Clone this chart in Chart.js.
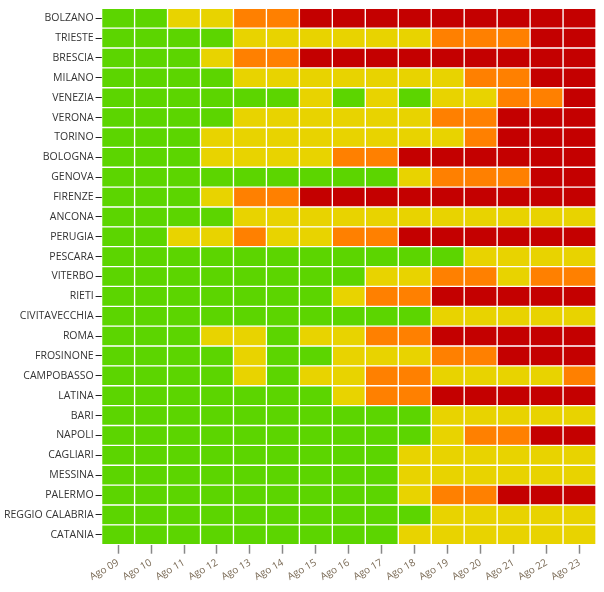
<!DOCTYPE html>
<html>
<head>
<meta charset="utf-8">
<script src="https://cdn.jsdelivr.net/npm/chart.js@4"></script>
<style>
  html, body { margin: 0; padding: 0; background: #fff; }
  #wrap { width: 604px; height: 592px; }
</style>
</head>
<body>
<div id="wrap"><canvas id="heat"></canvas></div>
<script>
const cities = ["BOLZANO", "TRIESTE", "BRESCIA", "MILANO", "VENEZIA", "VERONA", "TORINO", "BOLOGNA",
  "GENOVA", "FIRENZE", "ANCONA", "PERUGIA", "PESCARA", "VITERBO", "RIETI", "CIVITAVECCHIA", "ROMA",
  "FROSINONE", "CAMPOBASSO", "LATINA", "BARI", "NAPOLI", "CAGLIARI", "MESSINA", "PALERMO",
  "REGGIO CALABRIA", "CATANIA"];
const days = ["Ago 09", "Ago 10", "Ago 11", "Ago 12", "Ago 13", "Ago 14", "Ago 15", "Ago 16",
  "Ago 17", "Ago 18", "Ago 19", "Ago 20", "Ago 21", "Ago 22", "Ago 23"];
// 0 = verde, 1 = giallo, 2 = arancione, 3 = rosso
const levels = [
  [0,0,1,1,2,2,3,3,3,3,3,3,3,3,3],
  [0,0,0,0,1,1,1,1,1,1,2,2,2,3,3],
  [0,0,0,1,2,2,3,3,3,3,3,3,3,3,3],
  [0,0,0,0,1,1,1,1,1,1,1,2,2,3,3],
  [0,0,0,0,0,0,1,0,1,0,1,1,2,2,3],
  [0,0,0,0,1,1,1,1,1,1,2,2,3,3,3],
  [0,0,0,1,1,1,1,1,1,1,1,2,3,3,3],
  [0,0,0,1,1,1,1,2,2,3,3,3,3,3,3],
  [0,0,0,0,0,0,0,0,0,1,2,2,2,3,3],
  [0,0,0,1,2,2,3,3,3,3,3,3,3,3,3],
  [0,0,0,0,1,1,1,1,1,1,1,1,1,1,1],
  [0,0,1,1,2,1,1,2,2,3,3,3,3,3,3],
  [0,0,0,0,0,0,0,0,0,0,0,1,1,1,1],
  [0,0,0,0,0,0,0,0,1,1,2,2,1,2,2],
  [0,0,0,0,0,0,0,1,2,2,3,3,3,3,3],
  [0,0,0,0,0,0,0,0,0,0,1,1,1,1,1],
  [0,0,0,1,1,0,1,1,2,2,3,3,3,3,3],
  [0,0,0,0,1,0,0,1,1,1,2,2,3,3,3],
  [0,0,0,0,1,0,1,1,2,2,1,1,1,1,2],
  [0,0,0,0,0,0,0,1,2,2,3,3,3,3,3],
  [0,0,0,0,0,0,0,0,0,0,1,1,1,1,1],
  [0,0,0,0,0,0,0,0,0,0,1,2,2,3,3],
  [0,0,0,0,0,0,0,0,0,1,1,1,1,1,1],
  [0,0,0,0,0,0,0,0,0,1,1,1,1,1,1],
  [0,0,0,0,0,0,0,0,0,1,2,2,3,3,3],
  [0,0,0,0,0,0,0,0,0,0,1,1,1,1,1],
  [0,0,0,0,0,0,0,0,0,1,1,1,1,1,1]
];
const palette = ["#5cd500", "#e8d300", "#ff8000", "#c40000"];

// one stacked dataset per day, each cell is a unit-width bar
const datasets = days.map((d, j) => ({
  label: d,
  data: cities.map(() => 1),
  backgroundColor: cities.map((c, i) => palette[levels[i][j]]),
  borderColor: "#fff",
  borderWidth: 1,
  borderSkipped: false,
  barPercentage: 1,
  categoryPercentage: 1
}));

new Chart(document.getElementById("heat"), {
  type: "bar",
  data: { labels: cities, datasets: datasets },
  options: {
    indexAxis: "y",
    responsive: true,
    maintainAspectRatio: false,
    animation: false,
    layout: { padding: { top: 4, right: 8, left: 2, bottom: 6 } },
    plugins: { legend: { display: false }, tooltip: { enabled: false } },
    scales: {
      x: {
        type: "linear",
        stacked: true,
        min: 0,
        max: days.length,
        afterBuildTicks: (axis) => {
          axis.ticks = days.map((d, j) => ({ value: j + 0.5 }));
        },
        ticks: {
          autoSkip: false,
          maxRotation: 30,
          minRotation: 30,
          color: "#7a6a55",
          font: { family: "'Open Sans'", size: 10 },
          callback: (v) => days[Math.floor(v)]
        },
        grid: { drawOnChartArea: false, color: "#888", tickLength: 9, tickWidth: 1.5 },
        border: { display: false }
      },
      y: {
        stacked: true,
        ticks: {
          autoSkip: false,
          color: "#333",
          font: { family: "'Open Sans'", size: 10.5 },
          padding: 2
        },
        grid: { drawOnChartArea: false, offset: false, color: "#222", tickLength: 6, tickWidth: 1 },
        border: { display: false }
      }
    }
  }
});
</script>
</body>
</html>
